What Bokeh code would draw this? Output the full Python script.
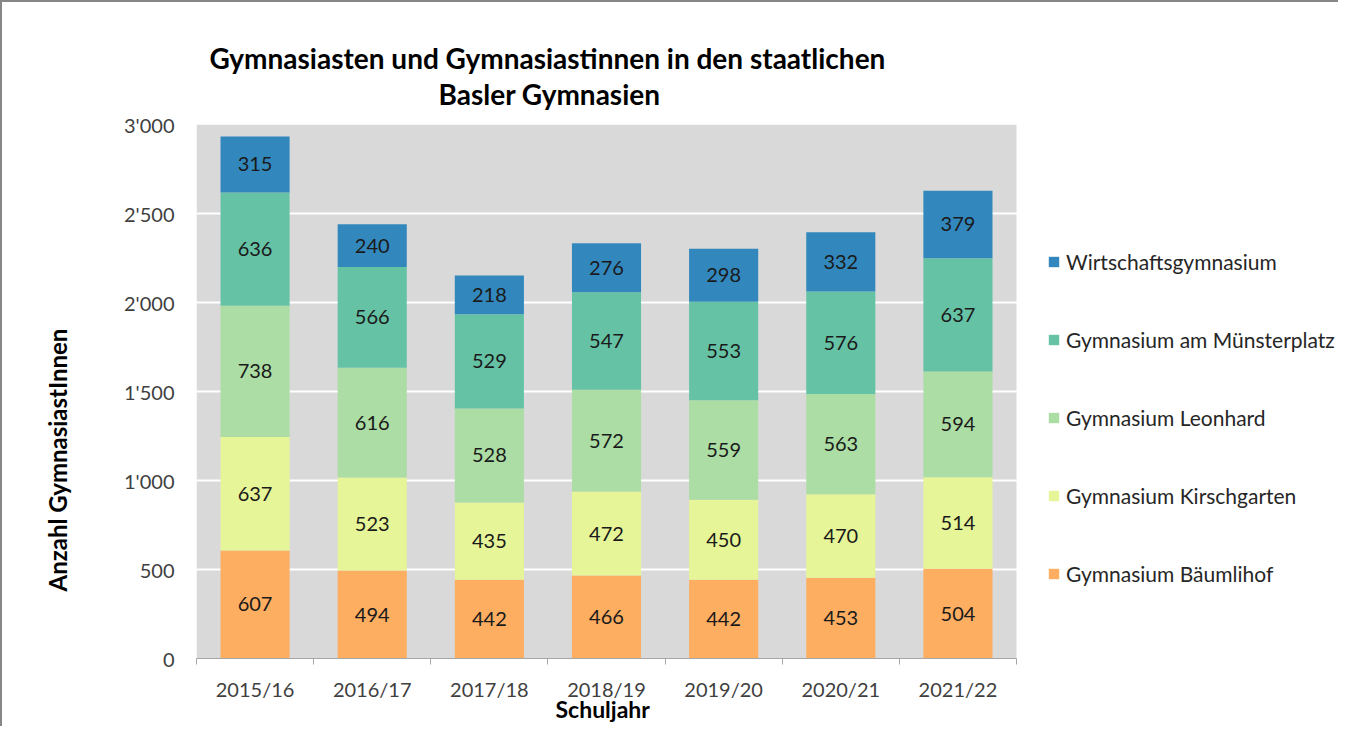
import numpy as np
from bokeh.plotting import figure
from bokeh.models import ColumnDataSource, Range1d, FixedTicker, Legend, LegendItem, Title
from bokeh.core.properties import value
from bokeh.embed import file_html
from bokeh.resources import INLINE

# ---- data ----
years = ["2015/16", "2016/17", "2017/18", "2018/19", "2019/20", "2020/21", "2021/22"]
baeumlihof = [607, 494, 442, 466, 442, 453, 504]
kirschgarten = [637, 523, 435, 472, 450, 470, 514]
leonhard = [738, 616, 528, 572, 559, 563, 594]
muensterplatz = [636, 566, 529, 547, 553, 576, 637]
wirtschaft = [315, 240, 218, 276, 298, 332, 379]
series_names = ["Gymnasium Bäumlihof", "Gymnasium Kirschgarten", "Gymnasium Leonhard",
                "Gymnasium am Münsterplatz", "Wirtschaftsgymnasium"]
series_values = [baeumlihof, kirschgarten, leonhard, muensterplatz, wirtschaft]
colors = ["#FDAE61", "#E6F598", "#ABDDA4", "#66C2A5", "#3288BD"]
y_ticks = [0, 500, 1000, 1500, 2000, 2500, 3000]

title_lines = ["Gymnasiasten und Gymnasiastinnen in den staatlichen", "Basler Gymnasien"]
y_label = "Anzahl GymnasiastInnen"
x_label = "Schuljahr"

FONT = "Lato"

# ---- layout ----
W, H = 1338, 726
LEFT, TOP, BOTTOM = 194, 122, 70
PLOT_W = 820                      # width of the grey plot area in px
n = len(years)
px_per_cat = PLOT_W / n
x_start = -0.5
x_plot_end = n - 0.5
x_end = x_plot_end + (W - LEFT - PLOT_W) / px_per_cat   # frame continues under the legend

p = figure(width=W, height=H, output_backend="svg", toolbar_location=None,
           x_range=Range1d(x_start, x_end), y_range=Range1d(y_ticks[0], y_ticks[-1]),
           min_border_left=LEFT, min_border_top=TOP, min_border_right=0, min_border_bottom=BOTTOM,
           background_fill_color="white", border_fill_color="white")
p.styles = {"border-left": "2px solid #878787", "border-top": "2px solid #878787"}
p.outline_line_color = None

# grey plot area
p.quad(left=[x_start], right=[x_plot_end], bottom=[y_ticks[0]], top=[y_ticks[-1]],
       fill_color="#D9D9D9", line_color=None, level="underlay")

keys = [f"s{i}" for i in range(len(series_values))]
data = {"x": list(range(n))}
for k, v in zip(keys, series_values):
    data[k] = v
src = ColumnDataSource(data)
renderers = p.vbar_stack(keys, x="x", width=0.59, fill_color=colors, line_color=None, source=src)

# value labels centered in each segment
arr = np.array(series_values, dtype=float)
tops = np.cumsum(arr, axis=0)
mids = tops - arr / 2
lx, ly, lt = [], [], []
for si in range(arr.shape[0]):
    for ci in range(arr.shape[1]):
        lx.append(ci)
        ly.append(mids[si, ci])
        lt.append(str(int(arr[si, ci])))
p.text(x="x", y="y", text="t", source=ColumnDataSource(dict(x=lx, y=ly, t=lt)),
       text_align="center", text_baseline="middle", text_font=value(FONT),
       text_font_size="20px", text_color="#1a1a1a")

# axes
p.yaxis.ticker = FixedTicker(ticks=y_ticks)
p.yaxis.major_label_overrides = {t: f"{t:,}".replace(",", "'") for t in y_ticks}
p.yaxis.axis_line_color = None
p.yaxis.major_tick_line_color = None
p.yaxis.minor_tick_line_color = None
p.yaxis.major_tick_out = 0
p.yaxis.major_tick_in = 0
p.yaxis.major_label_standoff = 22
p.yaxis.major_label_text_font = FONT
p.yaxis.major_label_text_font_size = "20px"
p.yaxis.major_label_text_color = "#3f3f3f"

xt = list(range(n))
p.xaxis.ticker = FixedTicker(ticks=xt, minor_ticks=[i - 0.5 for i in range(n + 1)])
p.xaxis.bounds = (x_start, x_plot_end)
p.xaxis.major_label_overrides = {i: y for i, y in zip(xt, years)}
p.xaxis.axis_line_color = "#A6A6A6"
p.xaxis.major_tick_line_color = None
p.xaxis.major_tick_out = 0
p.xaxis.major_tick_in = 0
p.xaxis.minor_tick_line_color = "#A6A6A6"
p.xaxis.minor_tick_out = 6
p.xaxis.minor_tick_in = 0
p.xaxis.major_label_standoff = 12
p.xaxis.major_label_text_font = FONT
p.xaxis.major_label_text_font_size = "20px"
p.xaxis.major_label_text_color = "#3f3f3f"

p.ygrid.ticker = FixedTicker(ticks=y_ticks)
p.ygrid.grid_line_color = "white"
p.ygrid.grid_line_width = 2
p.xgrid.grid_line_color = None

# titles: spacer closest to the frame, then line 2, then line 1
def spacer(size):
    return Title(text=" ", text_font_size="1px", standoff=size)

p.add_layout(spacer(11), "above")
p.add_layout(Title(text=title_lines[1], align="left", offset=242, standoff=0,
                   text_font=FONT, text_font_style="bold", text_font_size="28px",
                   text_color="black"), "above")
p.add_layout(Title(text=title_lines[0], align="left", offset=13, standoff=0,
                   text_font=FONT, text_font_style="bold", text_font_size="28px",
                   text_color="black"), "above")

# x axis title below the category labels
p.add_layout(Title(text=x_label, align="left", offset=359, standoff=-18, vertical_align="top",
                   text_font=FONT, text_font_style="bold", text_font_size="23px",
                   text_color="black"), "below")

# y axis title placed in the left panel
p.add_layout(spacer(47), "left")
p.add_layout(Title(text=y_label, align="left", offset=67, standoff=0,
                   text_font=FONT, text_font_style="bold", text_font_size="24px",
                   text_color="black"), "left")

# legend (inside the white part of the frame, right of the grey plot area)
items = [LegendItem(label=series_names[i], renderers=[renderers[i]])
         for i in reversed(range(len(series_names)))]
legend = Legend(items=items, location=(PLOT_W + 31, 72), spacing=53, label_height=24,
                glyph_height=13, glyph_width=13, label_standoff=6, padding=0, margin=0,
                border_line_color=None, background_fill_alpha=0,
                label_text_font=FONT, label_text_font_size="21px",
                label_text_color="#262626")
p.add_layout(legend, "center")

open("out.html", "w").write(file_html(p, INLINE))
